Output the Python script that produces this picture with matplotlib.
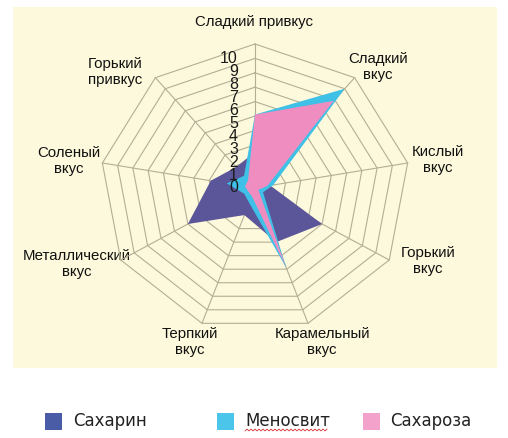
import numpy as np
import matplotlib.pyplot as plt
from matplotlib.patches import Rectangle

# taste axes, clockwise from the top
categories = ['Сладкий привкус', 'Сладкий\nвкус', 'Кислый\nвкус', 'Горький\nвкус',
              'Карамельный\nвкус', 'Терпкий\nвкус', 'Металлический\nвкус',
              'Соленый\nвкус', 'Горький\nпривкус']
saharin = [2.5, 1.5, 1.0, 5.0, 4.0, 2.0, 5.0, 2.9, 1.9]
menosvit = [5.1, 9.0, 1.2, 0.6, 5.9, 1.1, 0.8, 1.85, 1.1]
saharoza = [5.1, 7.9, 0.8, 0.25, 5.8, 0.6, 0.5, 0.65, 0.7]
series_names = ['Сахарин', 'Меносвит', 'Сахароза']
tick_values = list(range(0, 11))

fill_colors = ['#5b5599', '#3fc0e6', '#f08dc0']
legend_colors = ['#4a5ca6', '#4cc5ea', '#f2a2cb']
grid_color = '#b3af96'

plt.rcParams['font.family'] = ['Liberation Sans', 'DejaVu Sans']

W, H = 508, 438
fig = plt.figure(figsize=(W / 100, H / 100), dpi=100)

# background axes in pixel coordinates: panel, labels, legend
bg = fig.add_axes([0, 0, 1, 1], zorder=0)
bg.set_xlim(0, W)
bg.set_ylim(H, 0)
bg.axis('off')
bg.add_patch(Rectangle((13, 7), 484, 361, facecolor='#fdf9dc', edgecolor='none'))

# radar axes, centre at (255, 188) px, 10 units = 155 px wide / 144 px tall
cx, cy, sx, sy = 255, 188, 15.5, 14.4
ax = fig.add_axes([0, 0, 1, 1], zorder=1)
ax.set_xlim(-cx / sx, (W - cx) / sx)
ax.set_ylim((cy - H) / sy, cy / sy)
ax.axis('off')
ax.patch.set_alpha(0)

n = len(categories)
theta = np.deg2rad(90 - 40 * np.arange(n))
cs, sn = np.cos(theta), np.sin(theta)

# grid rings and spokes
for k in tick_values[1:]:
    ax.plot(np.r_[k * cs, k * cs[0]], np.r_[k * sn, k * sn[0]],
            color=grid_color, lw=0.8, zorder=1)
for c, s in zip(cs, sn):
    ax.plot([0, 10 * c], [0, 10 * s], color=grid_color, lw=0.8, zorder=1)

# series fills
for vals, col, z in zip([saharin, menosvit, saharoza], fill_colors, [2, 3, 4]):
    r = np.array(vals)
    ax.fill(r * cs, r * sn, color=col, lw=0, zorder=z)

# radial tick labels, stacked tightly as in the source
for k in tick_values:
    ax.text(-1.1, 0.9 * k, str(k), ha='right', va='center', fontsize=11.5,
            color='#1a1a1a', zorder=6)

# category labels (pixel centres)
label_pos = [(254, 22), (378, 67), (438, 160), (428, 261), (322, 342),
             (190, 342), (77, 264), (69, 161), (115, 72)]
for name, (x, y) in zip(categories, label_pos):
    bg.text(x, y, name, ha='center', va='center', fontsize=10.8,
            linespacing=1.15, color='#111111')

# legend
sq_x = [45, 217, 363]
txt_x = [73, 245, 390]
for name, col, xs, xt in zip(series_names, legend_colors, sq_x, txt_x):
    bg.add_patch(Rectangle((xs, 413), 17, 17, facecolor=col, edgecolor='none'))
    bg.text(xt, 421, name, ha='left', va='center', fontsize=12,
            family='DejaVu Sans', color='#222222')

# spell-check squiggle under "Меносвит"
sq = np.arange(245, 328, 2)
bg.plot(sq, 430 + 0.9 * (-1) ** np.arange(len(sq)), color='#d03030', lw=0.6)

fig.savefig('out.png', dpi=100)
